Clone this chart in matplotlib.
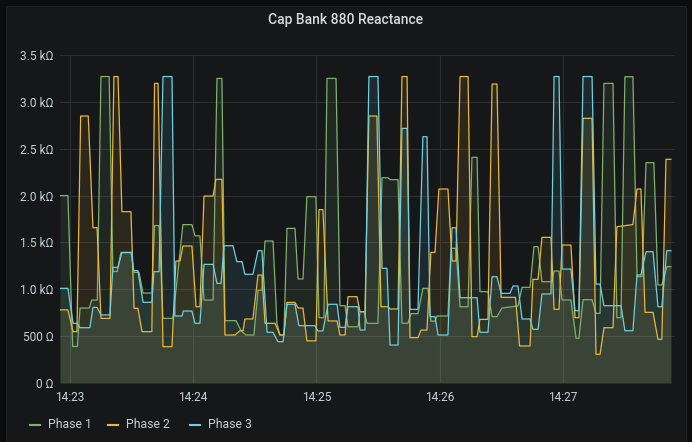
import matplotlib
matplotlib.use("Agg")
import matplotlib.pyplot as plt
from matplotlib.patches import Rectangle
from matplotlib.lines import Line2D

plt.rcParams['font.family'] = ['Roboto', 'DejaVu Sans']

title = "Cap Bank 880 Reactance"
series_names = ["Phase 1", "Phase 2", "Phase 3"]
series_colors = ["#7eb26d", "#eab839", "#6ed0e0"]

# seconds after 14:23:00
p1_t = [-4.9, -1.0, 1.3, 3.6, 4.9, 9.4, 10.6, 13.3, 15.1, 19.1, 20.9, 23.0, 24.8, 29.7, 31.2, 33.6,
        35.6, 39.9, 41.2, 43.4, 45.3, 50.2, 55.0, 59.4, 60.9, 63.3, 65.3, 69.7, 71.6, 74.0, 75.5,
        80.9, 83.3, 85.7, 89.6, 91.6, 93.5, 95.0, 98.9, 100.8, 102.3, 104.2, 105.7, 109.6, 111.1,
        113.5, 115.4, 119.8, 121.3, 123.7, 125.2, 129.6, 131.5, 134.0, 135.4, 140.3, 141.3, 143.2,
        144.7, 150.0, 152.0, 154.9, 155.9, 159.8, 161.7, 164.6, 166.1, 169.5, 171.9, 174.4, 175.8,
        177.8, 178.8, 184.1, 185.6, 188.0, 190.0, 193.9, 195.8, 198.3, 199.7, 203.6, 205.6, 208.0,
        210.4, 218.2, 220.2, 224.1, 226.0, 228.0, 229.9, 234.8, 235.8, 238.2, 239.7, 244.0, 246.5,
        247.9, 249.9, 254.3, 256.2, 258.2, 260.1, 264.5, 266.4, 268.4, 270.3, 274.2, 276.2, 278.6,
        280.6, 284.4, 286.4, 288.3, 290.7, 292.7]
p1_v = [2000, 2000, 390, 390, 800, 800, 885, 885, 3270, 3270, 1190, 1190, 1390, 1390, 1180, 1180,
        960, 960, 1680, 1680, 690, 690, 1690, 1690, 1570, 1570, 885, 885, 3250, 3250, 665,
        665, 560, 512, 512, 990, 990, 1515, 1515, 637, 512, 512, 1650, 1650, 1110,
        1110, 1988, 1988, 697, 697, 3250, 3250, 825, 825, 600, 600, 760, 760,
        637, 637, 2190, 2190, 2170, 2170, 637, 637, 740, 740, 1010, 1010, 660,
        660, 715, 715, 1437, 1437, 814, 814, 2408, 2408, 975, 975, 708, 708,
        800, 822, 1021, 1021, 1455, 1455, 1081, 1081, 1195, 1195, 886, 886, 477,
        477, 889, 889, 743, 743, 3197, 3197, 697, 697, 3268, 3268, 1134, 1134,
        2351, 2351, 1046, 1046, 1241, 1241]

p2_t = [-4.9, -1.0, 1.5, 3.4, 5.2, 8.9, 11.2, 13.2, 15.1, 19.5, 21.4, 23.4, 25.3, 29.7, 31.2, 33.1,
        35.1, 39.9, 41.2, 42.9, 45.3, 49.7, 51.6, 53.6, 55.0, 59.4, 61.4, 63.3, 65.3, 69.7, 71.1,
        74.0, 75.5, 80.4, 82.8, 84.3, 85.2, 89.1, 91.6, 93.5, 95.0, 99.9, 102.3, 104.2, 105.7,
        109.6, 111.1, 113.5, 115.4, 119.8, 121.3, 123.2, 125.7, 130.1, 131.5, 134.0, 135.4, 139.8,
        141.3, 143.7, 145.6, 149.5, 151.5, 154.9, 155.9, 159.8, 161.7, 164.2, 165.6, 169.5, 171.0,
        173.9, 175.8, 177.8, 179.7, 184.1, 186.1, 188.0, 190.0, 193.9, 195.8, 198.3, 199.7, 203.6,
        205.6, 208.0, 210.0, 217.0, 219.0, 224.1, 225.5, 228.0, 229.9, 234.3, 235.8, 238.2, 239.7,
        244.0, 246.0, 247.9, 249.9, 254.3, 256.2, 258.2, 260.1, 264.5, 266.4, 274.2, 276.2, 278.1,
        280.1, 284.0, 286.4, 288.3, 290.3, 292.7]
p2_v = [780, 780, 548, 548, 2849, 2849, 1657, 1657, 690, 690, 3270, 3270, 1828, 1828, 797, 797,
        548, 548, 3197, 3197, 388, 388, 1302, 1302, 1462, 1462, 814, 814, 1995, 1995, 2173,
        2173, 512, 512, 558, 558, 683, 683, 1152, 1152, 637, 637, 512, 512, 860,
        860, 800, 800, 450, 450, 1850, 1850, 662, 662, 512, 512, 921, 921,
        761, 761, 2849, 2849, 814, 814, 790, 790, 3270, 3270, 484, 484, 565,
        565, 1394, 1394, 2070, 2070, 1302, 1302, 3270, 3270, 494, 494, 679, 679,
        3190, 3190, 914, 914, 395, 395, 1106, 1106, 1554, 1554, 786, 786, 1472,
        1472, 697, 697, 2824, 2824, 306, 306, 590, 590, 1668, 1690, 2070, 2070,
        754, 754, 466, 466, 2387, 2387]

p3_t = [-4.9, -1.0, 1.5, 3.4, 4.9, 9.7, 11.2, 13.2, 15.1, 19.5, 20.9, 23.4, 25.3, 30.2, 30.9, 33.1,
        35.6, 39.9, 40.9, 43.4, 45.3, 49.7, 51.1, 54.6, 55.2, 59.4, 60.9, 63.3, 65.3, 69.7, 71.6,
        73.6, 75.0, 79.4, 81.3, 83.8, 85.2, 89.1, 91.6, 93.5, 96.0, 98.9, 101.3, 103.8, 105.7,
        109.6, 111.5, 119.3, 120.8, 123.2, 125.7, 130.1, 131.5, 134.0, 135.4, 140.3, 141.3, 143.7,
        145.6, 150.0, 152.0, 154.4, 155.9, 159.8, 161.7, 164.2, 165.6, 169.5, 171.9, 173.9, 175.4,
        177.8, 179.3, 184.1, 186.1, 188.0, 190.0, 198.3, 199.7, 203.6, 205.6, 208.0, 210.0, 214.3,
        215.8, 218.2, 220.2, 224.1, 225.5, 228.0, 229.9, 234.3, 235.8, 238.2, 239.7, 244.0, 246.0,
        247.9, 249.9, 254.3, 256.2, 258.2, 260.1, 268.4, 270.3, 274.2, 276.2, 278.1, 280.6, 284.0,
        286.4, 288.3, 290.7, 292.7]
p3_v = [1010, 1010, 637, 637, 590, 590, 807, 807, 726, 726, 1234, 1234, 1394, 1394, 1199, 1199,
        861, 861, 1188, 1188, 3270, 3270, 715, 715, 768, 768, 637, 637, 1266, 1266, 1063,
        1063, 1465, 1465, 1295, 1295, 1160, 1160, 1412, 1412, 541, 541, 441, 441, 840,
        840, 612, 612, 555, 555, 840, 840, 594, 594, 814, 814, 565, 565,
        3270, 3270, 1224, 1224, 405, 405, 2717, 2717, 786, 786, 2628, 2628, 708,
        708, 512, 512, 1657, 1657, 910, 910, 541, 541, 1134, 1134, 957, 957,
        1035, 1035, 683, 683, 573, 573, 950, 950, 3270, 3270, 1216, 1216, 772,
        772, 3270, 3270, 1056, 1056, 825, 825, 558, 558, 1152, 1152, 1401, 1401,
        814, 814, 1412, 1412]

x_ticks = [0, 60, 120, 180, 240]
x_tick_labels = ["14:23", "14:24", "14:25", "14:26", "14:27"]
y_ticks = [0, 500, 1000, 1500, 2000, 2500, 3000, 3500]
y_tick_labels = ["0 Ω", "500 Ω", "1.0 kΩ", "1.5 kΩ", "2.0 kΩ", "2.5 kΩ", "3.0 kΩ", "3.5 kΩ"]

W, H = 692, 442
fig = plt.figure(figsize=(W / 100, H / 100), dpi=100)
fig.patch.set_facecolor("#0b0c0e")
fig.patches.append(Rectangle((6 / W, 0), 680 / W, 436 / H, transform=fig.transFigure,
                             facecolor="#161719", edgecolor="#202226", lw=0.8, zorder=-10))

ax = fig.add_axes([59.5 / W, (H - 383) / H, (675 - 59.5) / W, (383 - 55) / H])
ax.set_facecolor("#161719")

series = [(p1_t, p1_v), (p2_t, p2_v), (p3_t, p3_v)]
for (t, v), c, name in zip(series, series_colors, series_names):
    ax.fill_between(t, v, 0, color=c, alpha=0.1, lw=0)
    ax.plot(t, v, color=c, lw=0.9, label=name)

ax.set_xlim(-5.1, 294.7)
ax.set_ylim(0, 3500)
ax.set_xticks(x_ticks)
ax.set_xticklabels(x_tick_labels)
ax.set_yticks(y_ticks)
ax.set_yticklabels(y_tick_labels)
ax.tick_params(length=0, colors="#c7d0d9", labelsize=8.6)
ax.tick_params(axis='x', pad=6)
ax.tick_params(axis='y', pad=4.5)
ax.grid(True, color="#2c2d31", lw=0.8)
ax.set_axisbelow(True)
for s in ax.spines.values():
    s.set_visible(False)

fig.text(346 / W, 1 - 20 / H, title, ha="center", va="center", color="#d8d9da",
         fontsize=10, fontweight="medium")

# legend
leg_x = [30, 108, 190]
for x0, c, name in zip(leg_x, series_colors, series_names):
    fig.add_artist(Line2D([x0 / W, (x0 + 10) / W], [1 - 425 / H] * 2, color=c, lw=1.5,
                          transform=fig.transFigure))
    fig.text((x0 + 18) / W, 1 - 425 / H, name, ha="left", va="center", color="#c7d0d9",
             fontsize=8.8)

fig.savefig("out.png", dpi=100, facecolor=fig.get_facecolor())
